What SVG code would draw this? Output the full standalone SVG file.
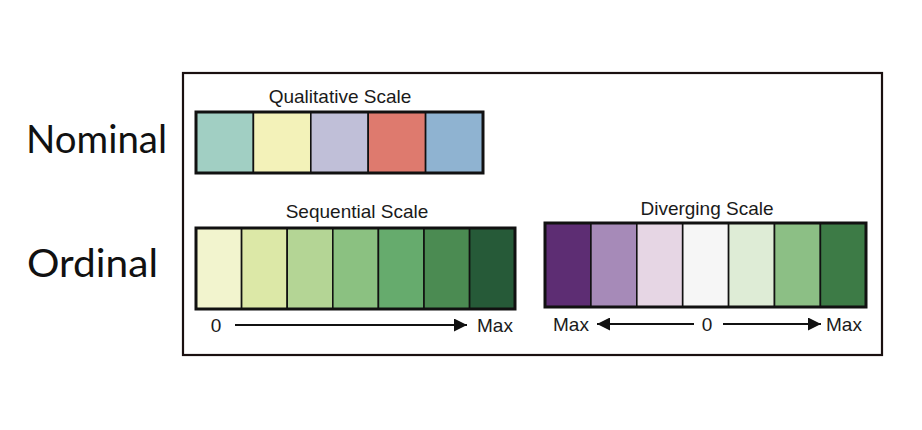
<svg xmlns="http://www.w3.org/2000/svg" width="922" height="430" viewBox="0 0 922 430">
<defs>
<style>
.frame{fill:#fff;stroke:#1a1010;stroke-width:2.2}
.bar{fill:none;stroke:#111;stroke-width:3}
.cell{stroke:#111;stroke-width:1.6}
.title{font-family:"Liberation Sans",Arial,sans-serif;font-size:19px;fill:#1a1a1a;text-anchor:middle}
.axis{font-family:"Liberation Sans",Arial,sans-serif;font-size:19px;fill:#1a1a1a}
.big{font-family:"Lato","Open Sans",sans-serif;font-size:38px;fill:#111}
.arr{stroke:#111;stroke-width:1.8;fill:none}
</style>
<marker id="ah" viewBox="0 0 10 10" refX="10" refY="5" markerWidth="15" markerHeight="13" markerUnits="userSpaceOnUse" orient="auto-start-reverse">
<path d="M0,0 L10,5 L0,10 Z" fill="#111"/>
</marker>
</defs>
<rect width="922" height="430" fill="#fff"/>
<g id="labels">
<text class="big" x="26" y="153" textLength="141" lengthAdjust="spacingAndGlyphs">Nominal</text>
<text class="big" x="27" y="277" textLength="131" lengthAdjust="spacingAndGlyphs">Ordinal</text>
</g>
<g id="frame">
<rect class="frame" x="183" y="73" width="699" height="282"/>
</g>
<g id="qualitative">
<text class="title" x="340" y="103">Qualitative Scale</text>
<rect class="cell" x="196" y="112" width="57.4" height="61" fill="#a1cfc3"/>
<rect class="cell" x="253.4" y="112" width="57.4" height="61" fill="#f3f2b9"/>
<rect class="cell" x="310.8" y="112" width="57.4" height="61" fill="#c0bfd8"/>
<rect class="cell" x="368.2" y="112" width="57.4" height="61" fill="#de7a6e"/>
<rect class="cell" x="425.6" y="112" width="57.4" height="61" fill="#8fb3d1"/>
<rect class="bar" x="196" y="112" width="287" height="61"/>
</g>
<g id="sequential">
<text class="title" x="357" y="218">Sequential Scale</text>
<rect class="cell" x="196" y="228" width="45.6" height="81" fill="#f2f4ce"/>
<rect class="cell" x="241.6" y="228" width="45.6" height="81" fill="#dce8a7"/>
<rect class="cell" x="287.2" y="228" width="45.6" height="81" fill="#b4d595"/>
<rect class="cell" x="332.8" y="228" width="45.6" height="81" fill="#8bc181"/>
<rect class="cell" x="378.4" y="228" width="45.6" height="81" fill="#66ab6d"/>
<rect class="cell" x="424" y="228" width="45.6" height="81" fill="#4b8b52"/>
<rect class="cell" x="469.6" y="228" width="45.4" height="81" fill="#265a38"/>
<rect class="bar" x="196" y="228" width="319" height="81"/>
<text class="axis" x="216" y="332" text-anchor="middle">0</text>
<text class="axis" x="477" y="332">Max</text>
</g>
<g id="diverging">
<text class="title" x="707" y="215">Diverging Scale</text>
<rect class="cell" x="545" y="223" width="45.9" height="84" fill="#5d2d73"/>
<rect class="cell" x="590.9" y="223" width="45.9" height="84" fill="#a68ab8"/>
<rect class="cell" x="636.8" y="223" width="45.9" height="84" fill="#e6d6e4"/>
<rect class="cell" x="682.7" y="223" width="45.9" height="84" fill="#f6f6f6"/>
<rect class="cell" x="728.6" y="223" width="45.9" height="84" fill="#deecd6"/>
<rect class="cell" x="774.5" y="223" width="45.9" height="84" fill="#8cbf85"/>
<rect class="cell" x="820.4" y="223" width="45.6" height="84" fill="#3d7b46"/>
<rect class="bar" x="545" y="223" width="321" height="84"/>
<text class="axis" x="553" y="331">Max</text>
<text class="axis" x="707" y="331" text-anchor="middle">0</text>
<text class="axis" x="826" y="331">Max</text>
</g>
<g id="connectors">
<line class="arr" x1="235" y1="325" x2="467" y2="325" marker-end="url(#ah)"/>
<line class="arr" x1="694" y1="324" x2="597" y2="324" marker-end="url(#ah)"/>
<line class="arr" x1="723" y1="324" x2="821" y2="324" marker-end="url(#ah)"/>
</g>
</svg>
